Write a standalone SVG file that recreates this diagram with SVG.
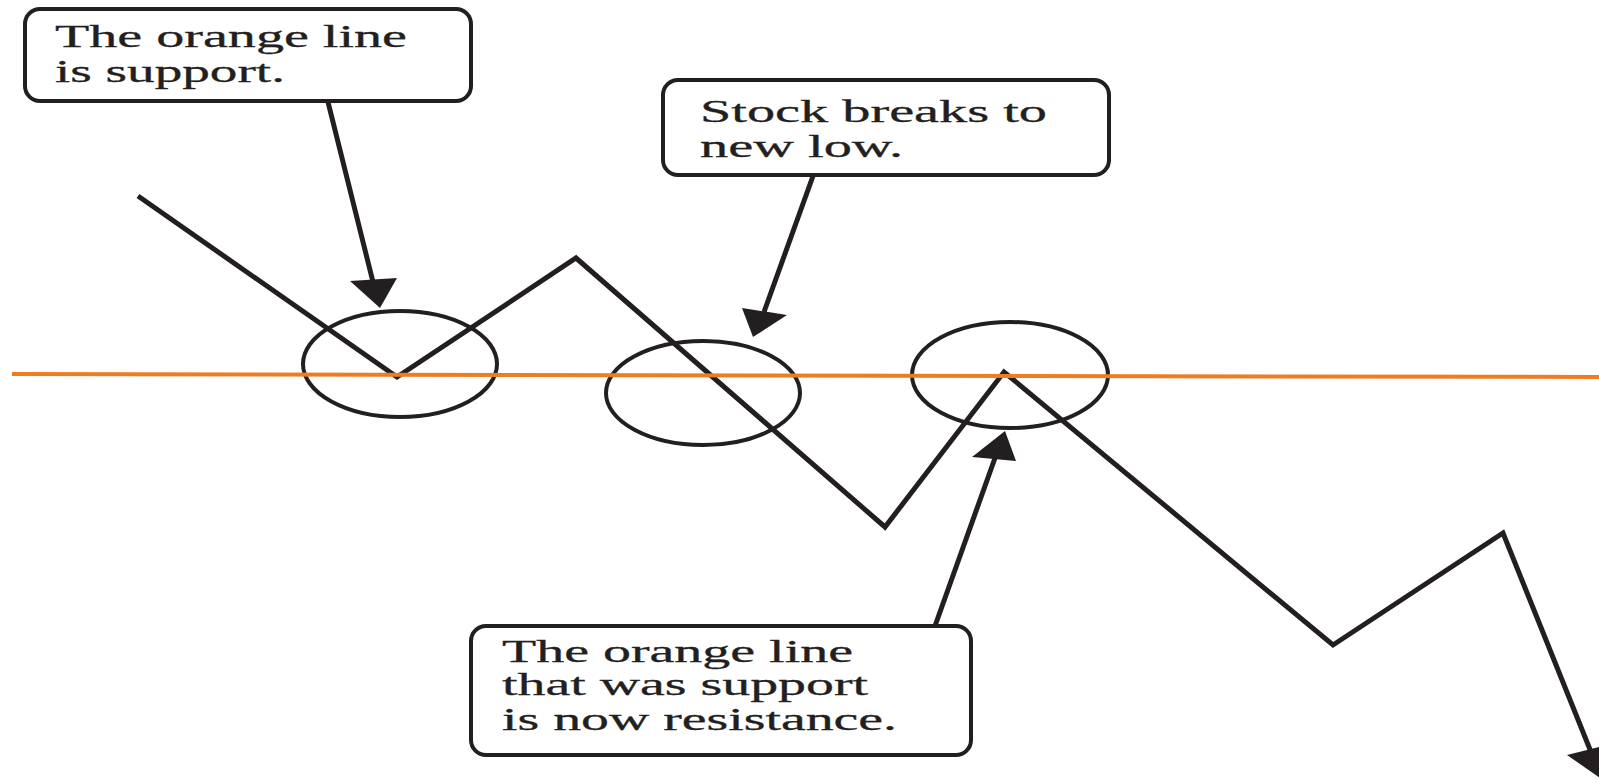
<svg xmlns="http://www.w3.org/2000/svg" width="1599" height="783" viewBox="0 0 1599 783">
<style>
.box{fill:#fff;stroke:#231F20;stroke-width:4}
.txt{font-family:"Liberation Serif","Times New Roman",serif;font-size:31px;fill:#231F20;stroke:#231F20;stroke-width:0.3}
.ring{fill:none;stroke:#231F20;stroke-width:4}
.wire{fill:none;stroke:#231F20;stroke-width:5;stroke-linejoin:miter}
.head{fill:#231F20}
.level{stroke:#EE7D22;stroke-width:4;fill:none}
</style>
<rect width="1599" height="783" fill="#fff"/>
<g id="connectors">
<polyline id="price" class="wire" points="138,196 397,377 576,258 885,527 1004,372 1333,645 1503,533 1591,752"/>
<polygon class="head" points="1567,755 1611,744 1600,778"/>
<line class="wire" x1="328" y1="102" x2="373" y2="282"/>
<polygon class="head" points="350,281 397,278 380,308"/>
<line class="wire" x1="813" y1="176" x2="764" y2="312"/>
<polygon class="head" points="742,308 787,315 753,337"/>
<line class="wire" x1="935" y1="626" x2="995" y2="458"/>
<polygon class="head" points="972,457 1016,461 1005,431"/>
</g>
<g id="circle-1"><ellipse class="ring" cx="400" cy="364" rx="97" ry="53"/></g>
<g id="circle-2"><ellipse class="ring" cx="703" cy="393" rx="97" ry="52"/></g>
<g id="circle-3"><ellipse class="ring" cx="1010" cy="375" rx="98" ry="53"/></g>
<g id="support-line"><line class="level" x1="12" y1="374" x2="1599" y2="377"/></g>
<g id="box-support">
<rect class="box" x="25" y="9" width="446" height="92" rx="15"/>
<text class="txt" x="55" y="47" textLength="352" lengthAdjust="spacingAndGlyphs">The orange line</text>
<text class="txt" x="55" y="82" textLength="230" lengthAdjust="spacingAndGlyphs">is support.</text>
</g>
<g id="box-breaks">
<rect class="box" x="663" y="80" width="446" height="95" rx="15"/>
<text class="txt" x="700" y="122" textLength="347" lengthAdjust="spacingAndGlyphs">Stock breaks to</text>
<text class="txt" x="700" y="157" textLength="203" lengthAdjust="spacingAndGlyphs">new low.</text>
</g>
<g id="box-resistance">
<rect class="box" x="471" y="626" width="500" height="129" rx="15"/>
<text class="txt" x="502" y="662" textLength="351" lengthAdjust="spacingAndGlyphs">The orange line</text>
<text class="txt" x="502" y="695" textLength="366" lengthAdjust="spacingAndGlyphs">that was support</text>
<text class="txt" x="502" y="730" textLength="395" lengthAdjust="spacingAndGlyphs">is now resistance.</text>
</g>
</svg>
